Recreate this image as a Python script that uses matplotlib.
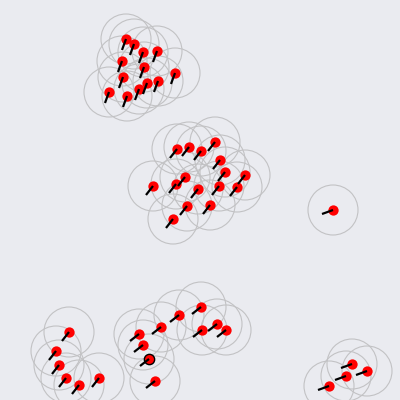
import matplotlib.pyplot as plt
from matplotlib.patches import Circle
from matplotlib.collections import LineCollection

# boid positions (pixels, y down) and tail offsets
x = [126, 134, 143, 157, 122, 144, 175, 123, 147, 158, 139, 109, 127,
     177, 189, 201, 215, 220, 225, 245, 153, 185, 176, 198, 219, 237, 187, 210, 173,
     333,
     352, 367, 346, 329,
     69, 56, 59, 66, 79, 99,
     201, 179, 161, 139, 143, 202, 217, 226, 149, 155]
y = [39, 44, 52, 51, 61, 67, 73, 77, 83, 81, 89, 92, 96,
     149, 147, 151, 142, 160, 172, 175, 186, 177, 184, 189, 186, 187, 206, 205, 219,
     210,
     364, 371, 376, 386,
     332, 351, 365, 378, 385, 378,
     307, 315, 327, 334, 345, 330, 324, 330, 359, 381]
dx = [-4] * 13 + [-7] * 16 + [-11] + [-11] * 4 + [-7] * 6 + [-9] * 10
dy = [11] * 13 + [9] * 16 + [4] + [4] * 4 + [9] * 6 + [7] * 10
radius = 25

fig = plt.figure(figsize=(4, 4), dpi=100)
ax = fig.add_axes([0, 0, 1, 1])
fig.patch.set_facecolor('#eaebf0')
ax.set_facecolor('#eaebf0')

for xi, yi in zip(x, y):
    ax.add_patch(Circle((xi, yi), radius, fill=False, edgecolor='#c2c2c4',
                        linewidth=0.8))

ax.scatter(x, y, s=55, color='red', zorder=3, linewidths=0)
segs = [[(xi, yi), (xi + a, yi + b)] for xi, yi, a, b in zip(x, y, dx, dy)]
ax.add_collection(LineCollection(segs, colors='black', linewidths=1.6, zorder=4))
# one highlighted boid
ax.scatter([149], [359], s=55, facecolor='red', edgecolor='black', linewidths=1, zorder=3.5)

ax.set_xlim(0, 400)
ax.set_ylim(400, 0)
ax.axis('off')
fig.savefig('out.png', dpi=100, facecolor=fig.get_facecolor())
